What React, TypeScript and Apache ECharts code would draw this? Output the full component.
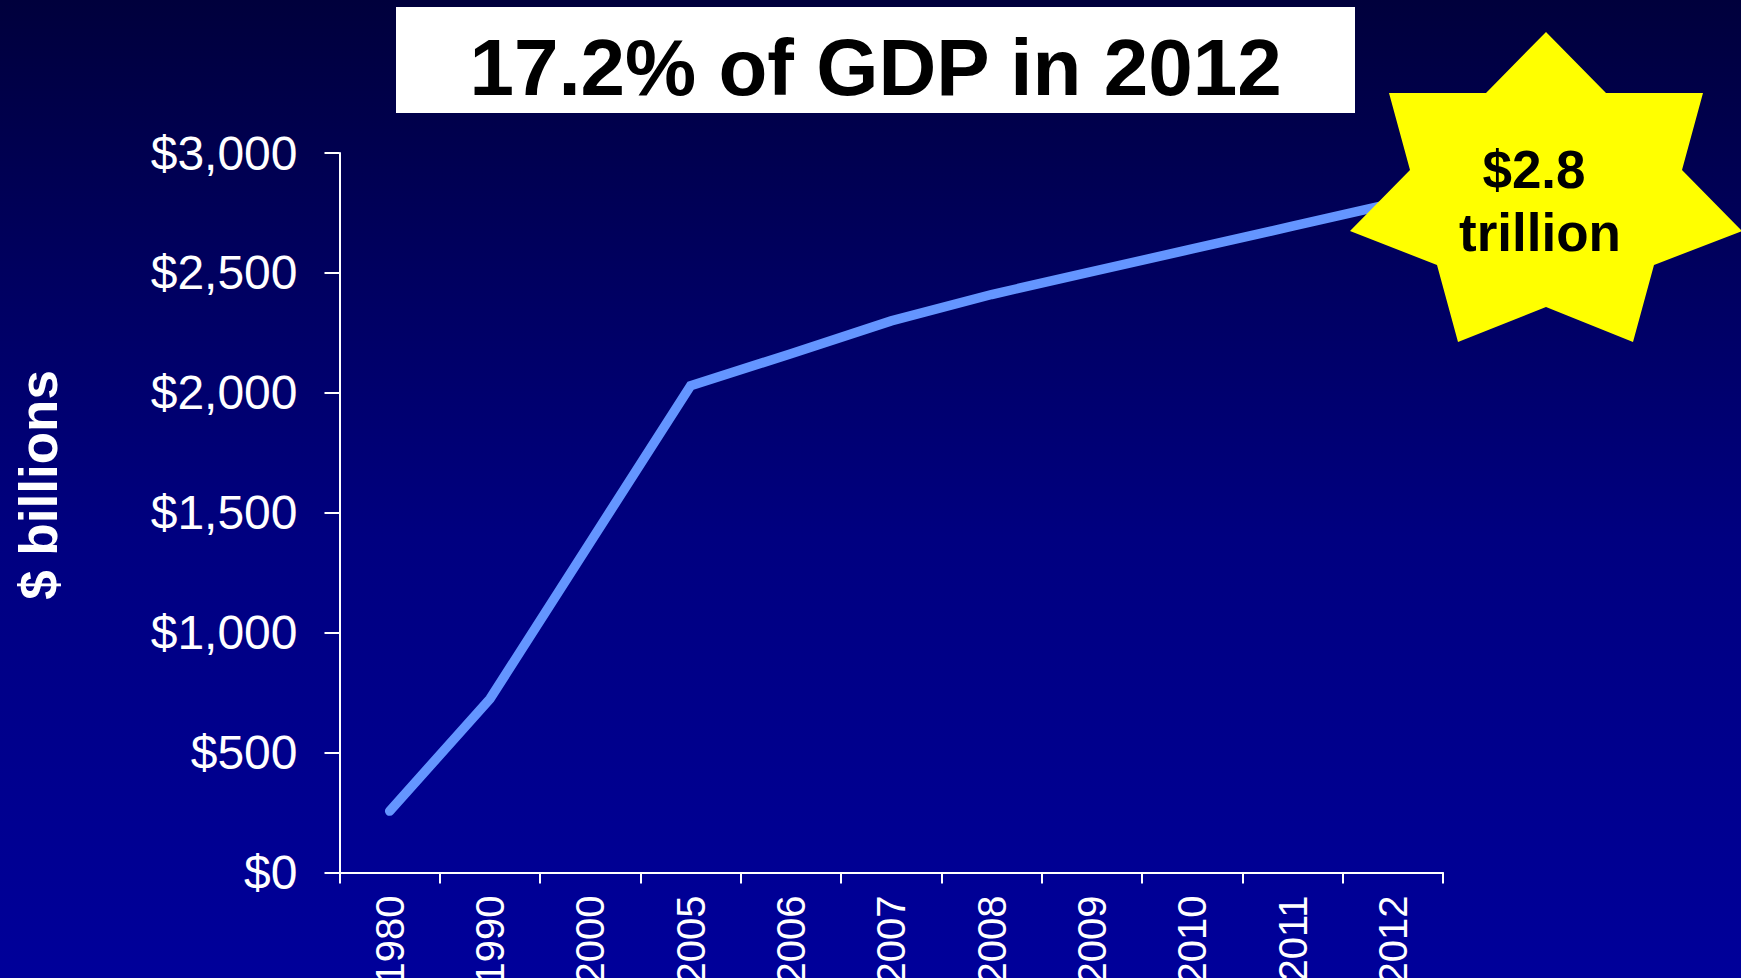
import React, { useEffect, useRef } from "react";
import * as echarts from "echarts";

const categories = ["1980", "1990", "2000", "2005", "2006", "2007", "2008", "2009", "2010", "2011", "2012"];
const spending = [256, 724, 1377, 2030, 2163, 2300, 2410, 2505, 2600, 2695, 2790];
const yTicks = [0, 500, 1000, 1500, 2000, 2500, 3000];
const yTickLabels = ["$0", "$500", "$1,000", "$1,500", "$2,000", "$2,500", "$3,000"];
const titleText = "17.2% of GDP in 2012";
const yAxisTitle = "$ billions";
const starLines = ["$2.8", "trillion"];

const FONT = '"Liberation Sans", Arial, Helvetica, sans-serif';

const starPoints: number[][] = [
  [1546, 32], [1606, 93], [1703, 93], [1682, 170], [1742, 231], [1654, 265],
  [1633, 342], [1546, 307], [1458, 342], [1437, 265], [1350, 231], [1410, 170],
  [1389, 93], [1486, 93],
];

export default function App() {
  const ref = useRef<HTMLDivElement>(null);
  useEffect(() => {
    if (!ref.current) return;
    const chart = echarts.init(ref.current, undefined, { renderer: "svg" });
    chart.setOption({
      animation: false,
      backgroundColor: "#000060",
      grid: {
        left: 339.5,
        width: 1103.5,
        top: 153,
        height: 719.5,
        containLabel: false,
        outerBoundsMode: "none",
      },
      xAxis: {
        type: "category",
        data: categories,
        boundaryGap: true,
        axisLine: { lineStyle: { color: "#ffffff", width: 2 } },
        axisTick: { show: true, length: 11, lineStyle: { color: "#ffffff", width: 2 } },
        axisLabel: {
          rotate: 90,
          margin: 23,
          color: "#ffffff",
          fontFamily: FONT,
          fontSize: 40,
          interval: 0,
        },
        splitLine: { show: false },
      },
      yAxis: {
        type: "value",
        min: 0,
        max: 3000,
        interval: 500,
        axisLine: { show: true, lineStyle: { color: "#ffffff", width: 2 } },
        axisTick: { show: true, length: 15, lineStyle: { color: "#ffffff", width: 2 } },
        axisLabel: {
          margin: 42,
          color: "#ffffff",
          fontFamily: FONT,
          fontSize: 48,
          formatter: (v: number) => {
            const i = yTicks.indexOf(v);
            return i >= 0 ? yTickLabels[i] : "";
          },
        },
        splitLine: { show: false },
      },
      series: [
        {
          type: "line",
          data: spending,
          symbol: "none",
          z: 3,
          lineStyle: { color: "#6495FF", width: 9.5, cap: "round", join: "miter" },
        },
      ],
      graphic: [
        {
          type: "rect",
          z: -100,
          silent: true,
          shape: { x: 0, y: 0, width: 1741, height: 978 },
          style: {
            fill: new echarts.graphic.LinearGradient(0, 0, 0, 1, [
              { offset: 0, color: "#00003c" },
              { offset: 0.3, color: "#000062" },
              { offset: 0.55, color: "#000080" },
              { offset: 1, color: "#00009a" },
            ]),
          },
        },
        {
          type: "rect",
          z: 50,
          shape: { x: 396, y: 7, width: 959, height: 106 },
          style: { fill: "#ffffff" },
        },
        {
          type: "text",
          z: 51,
          x: 875.5,
          y: 67,
          style: {
            text: titleText,
            fill: "#000000",
            font: `bold 80px ${FONT}`,
            textAlign: "center",
            textVerticalAlign: "middle",
          },
        },
        {
          type: "text",
          z: 51,
          x: 38,
          y: 485,
          rotation: Math.PI / 2,
          style: {
            text: yAxisTitle,
            fill: "#ffffff",
            font: `bold 53px ${FONT}`,
            textAlign: "center",
            textVerticalAlign: "middle",
          },
        },
        {
          type: "polygon",
          z: 60,
          shape: { points: starPoints },
          style: { fill: "#ffff00" },
        },
        {
          type: "text",
          z: 61,
          x: 1534,
          y: 169,
          style: {
            text: starLines[0],
            fill: "#000000",
            font: `bold 53px ${FONT}`,
            textAlign: "center",
            textVerticalAlign: "middle",
          },
        },
        {
          type: "text",
          z: 61,
          x: 1540,
          y: 232,
          style: {
            text: starLines[1],
            fill: "#000000",
            font: `bold 53px ${FONT}`,
            textAlign: "center",
            textVerticalAlign: "middle",
          },
        },
      ],
    });
    return () => chart.dispose();
  }, []);
  return (
    <div
      ref={ref}
      style={{ position: "fixed", left: 0, top: 0, width: 1741, height: 978 }}
    />
  );
}
